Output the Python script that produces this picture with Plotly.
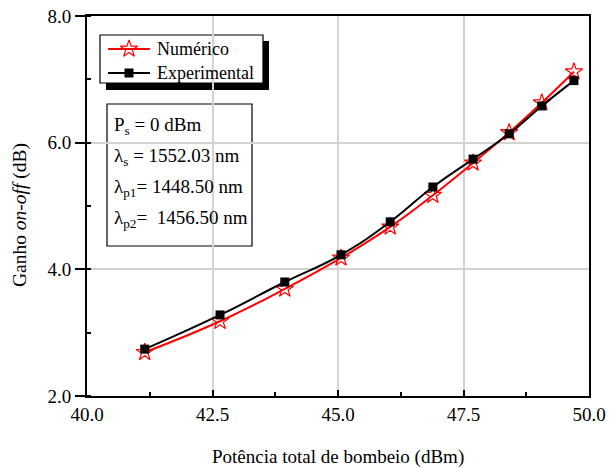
import plotly.graph_objects as go

# Data
pump_exp = [41.15, 42.65, 43.94, 45.06, 46.04, 46.89, 47.69, 48.41, 49.06, 49.70]
gain_exp = [2.74, 3.28, 3.80, 4.23, 4.75, 5.30, 5.74, 6.14, 6.58, 6.98]
pump_num = [41.15, 42.65, 43.94, 45.06, 46.04, 46.89, 47.69, 48.41, 49.06, 49.70]
gain_num = [2.69, 3.18, 3.69, 4.18, 4.67, 5.17, 5.68, 6.16, 6.63, 7.12]

x_ticks = [40.0, 42.5, 45.0, 47.5, 50.0]
y_ticks = [2.0, 4.0, 6.0, 8.0]
series_names = ["Numérico", "Experimental"]
info_lines = [
    "P<sub>s</sub> = 0 dBm",
    "λ<sub>s</sub> = 1552.03 nm",
    "λ<sub>p1</sub>= 1448.50 nm",
    "λ<sub>p2</sub>=  1456.50 nm",
]

FONT = "Liberation Serif, Times New Roman, serif"
W, H = 613, 468
L, R, T, B = 87, 24, 16, 72
PW, PH = W - L - R, H - T - B


def px(x):
    return (x - L) / PW


def py(y):
    return (H - B - y) / PH


RED = "#ff0000"
BLACK = "#000000"
star_marker = dict(symbol="star-open", size=13, color=RED, line=dict(width=1.2, color=RED))
square_marker = dict(symbol="square", size=9, color=BLACK)

fig = go.Figure()
fig.add_trace(go.Scatter(
    x=pump_num, y=gain_num, name=series_names[0], mode="lines+markers",
    line=dict(color=RED, width=2, shape="spline", smoothing=1.3),
    marker=star_marker, showlegend=False,
))
fig.add_trace(go.Scatter(
    x=pump_exp, y=gain_exp, name=series_names[1], mode="lines+markers",
    line=dict(color=BLACK, width=2, shape="spline", smoothing=1.3),
    marker=square_marker, showlegend=False,
))

axis_common = dict(
    showline=True, linecolor="black", linewidth=2, mirror=True,
    showgrid=True, gridcolor="#d3d3d3", gridwidth=1.5,
    zeroline=False, tickcolor="black", tickwidth=1.5, automargin=False,
    tickfont=dict(family=FONT, size=19, color="black"),
)

fig.update_xaxes(
    range=[40, 50], tickvals=x_ticks, ticktext=[f"{v:.1f}" for v in x_ticks],
    ticks="inside", ticklen=6,
    minor=dict(ticks="inside", ticklen=4, tickcolor="black", dtick=1.25, showgrid=False),
    **axis_common,
)
fig.update_yaxes(
    range=[2, 8], tickvals=y_ticks, ticktext=[f"{v:.1f}" for v in y_ticks],
    ticks="outside", ticklen=10,
    minor=dict(ticks="inside", ticklen=4, tickcolor="black", dtick=1.0, showgrid=False),
    **axis_common,
)

# overlay axes in paper fraction for the hand-drawn legend samples
fig.update_layout(
    xaxis2=dict(overlaying="x", range=[0, 1], visible=False, fixedrange=True),
    yaxis2=dict(overlaying="y", range=[0, 1], visible=False, fixedrange=True),
)

# axis titles
fig.add_annotation(xref="paper", yref="paper", x=0.5, y=py(457), text="Potência total de bombeio (dBm)",
                   showarrow=False, xanchor="center", yanchor="middle",
                   font=dict(family=FONT, size=19, color="black"))
fig.add_annotation(xref="paper", yref="paper", x=px(20), y=py(215), text="Ganho <i>on-off</i> (dB)",
                   showarrow=False, xanchor="center", yanchor="middle", textangle=-90,
                   font=dict(family=FONT, size=19.5, color="black"))

# legend: shadow, box, samples, labels
fig.add_shape(type="rect", xref="paper", yref="paper",
              x0=px(106), x1=px(269), y0=py(90), y1=py(41),
              fillcolor="black", line=dict(width=0), layer="between")
fig.add_shape(type="rect", xref="paper", yref="paper",
              x0=px(100), x1=px(263), y0=py(83), y1=py(35),
              fillcolor="white", line=dict(color="black", width=1.2), layer="between")
legend_rows = [(49, RED, star_marker), (73, BLACK, square_marker)]
for name, (yrow, col, mk) in zip(series_names, legend_rows):
    fig.add_trace(go.Scatter(x=[px(108), px(150)], y=[py(yrow), py(yrow)], xaxis="x2", yaxis="y2",
                             mode="lines", line=dict(color=col, width=2),
                             showlegend=False, hoverinfo="skip"))
    fig.add_trace(go.Scatter(x=[px(129)], y=[py(yrow)], xaxis="x2", yaxis="y2", mode="markers",
                             marker=mk, showlegend=False, hoverinfo="skip"))
    fig.add_annotation(xref="paper", yref="paper", x=px(155), y=py(yrow), text=name,
                       showarrow=False, xanchor="left", yanchor="middle",
                       font=dict(family=FONT, size=18, color="black"))

# info box
fig.add_shape(type="rect", xref="paper", yref="paper",
              x0=px(107), x1=px(252), y0=py(246), y1=py(104),
              fillcolor="white", line=dict(color="black", width=1.2), layer="between")
for i, txt in enumerate(info_lines):
    ypix = 126 + i * 31
    fig.add_annotation(xref="paper", yref="paper", x=px(112), y=py(ypix),
                       text=txt, showarrow=False, xanchor="left", yanchor="middle",
                       font=dict(family=FONT, size=19, color="black"))

fig.update_layout(
    width=W, height=H,
    margin=dict(l=L, r=R, t=T, b=B),
    paper_bgcolor="white", plot_bgcolor="white",
    showlegend=False,
    font=dict(family=FONT),
)

fig.write_html("out.html", config={"displayModeBar": False},
               post_script="document.body.style.margin='0px';")
